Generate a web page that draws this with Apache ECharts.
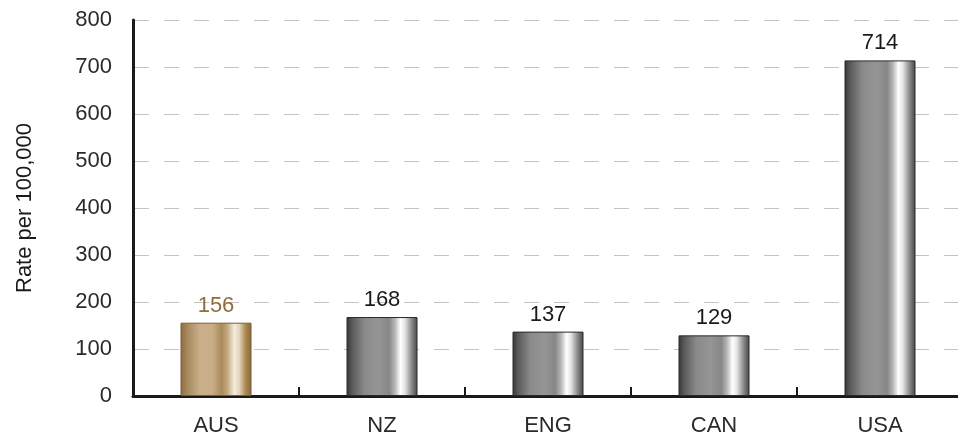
<!DOCTYPE html>
<html>
<head>
<meta charset="utf-8">
<script src="https://cdn.jsdelivr.net/npm/echarts@6/dist/echarts.min.js"></script>
<style>
  html, body { margin: 0; padding: 0; background: #fff; }
  #chart { width: 958px; height: 439px; }
</style>
</head>
<body>
<div id="chart"></div>
<script>
// Rate per 100,000 by country
const categories = ['AUS', 'NZ', 'ENG', 'CAN', 'USA'];
const rates = [156, 168, 137, 129, 714];
const yTicks = [0, 100, 200, 300, 400, 500, 600, 700, 800];
const highlighted = 'AUS';

const FONT = 'Liberation Sans, Arial, Helvetica, sans-serif';

// Cylinder-like horizontal gradients
function cylinder(stops) {
  return {
    type: 'linear', x: 0, y: 0, x2: 1, y2: 0,
    colorStops: stops.map(s => ({ offset: s[0], color: s[1] }))
  };
}
const grayFill = cylinder([
  [0, '#363636'], [0.08, '#5a5a5a'], [0.25, '#8a8a8a'], [0.45, '#959595'],
  [0.6, '#878787'], [0.68, '#b5b5b5'], [0.76, '#ffffff'], [0.82, '#e6e6e6'],
  [0.92, '#878787'], [1, '#454545']
]);
const goldFill = cylinder([
  [0, '#8c6c40'], [0.1, '#a88a5e'], [0.28, '#c9b08c'], [0.45, '#c8ad86'],
  [0.58, '#a98a5c'], [0.66, '#c4a87e'], [0.76, '#f4ece0'], [0.83, '#e2d2b8'],
  [0.92, '#a8864f'], [1, '#8a683a']
]);

const barData = categories.map((c, i) => ({
  value: rates[i],
  itemStyle: {
    color: c === highlighted ? goldFill : grayFill,
    borderColor: c === highlighted ? '#7c5c30' : '#2a2a2a'
  },
  label: { color: c === highlighted ? '#8f6d3c' : '#1a1a1a' }
}));

const chart = echarts.init(document.getElementById('chart'));
chart.setOption({
  animation: false,
  grid: { left: 133, right: -5, top: 20, bottom: 43, containLabel: false, outerBoundsMode: 'none' },
  xAxis: {
    type: 'category',
    data: categories,
    axisLine: { lineStyle: { color: '#1a1a1a', width: 3 } },
    axisTick: { show: true, inside: true, length: 9,
      lineStyle: { color: '#1a1a1a', width: 2 } },
    axisLabel: { color: '#2a2a2a', fontSize: 22, fontFamily: FONT, margin: 19 }
  },
  yAxis: {
    type: 'value',
    min: yTicks[0], max: yTicks[yTicks.length - 1], interval: 100,
    name: 'Rate per 100,000',
    nameLocation: 'middle',
    nameGap: 97,
    nameRotate: 90,
    nameTextStyle: { color: '#1a1a1a', fontSize: 22, fontFamily: FONT },
    axisLine: { show: true, lineStyle: { color: '#1a1a1a', width: 3 } },
    axisTick: { show: false },
    axisLabel: { color: '#2a2a2a', fontSize: 22, fontFamily: FONT, margin: 21 },
    splitLine: { show: true, lineStyle: { color: '#c4c4c4', width: 1, type: [15, 15], dashOffset: 29 } }
  },
  series: [{
    type: 'bar',
    data: barData,
    barWidth: 71,
    itemStyle: { borderWidth: 1 },
    label: {
      show: true, position: 'top', distance: 6,
      fontSize: 22, fontFamily: FONT
    }
  }]
});
</script>
</body>
</html>
